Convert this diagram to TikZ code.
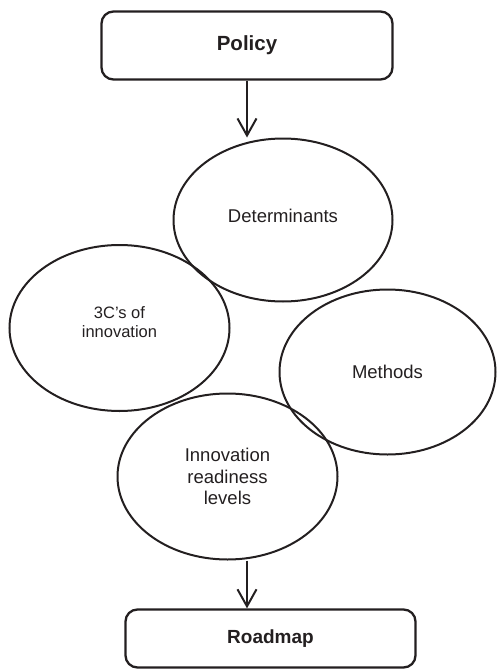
\documentclass[tikz,border=0pt]{standalone}
\usepackage{fontspec}
\setmainfont{Liberation Sans}
\usetikzlibrary{arrows.meta,shapes.geometric}
\definecolor{ink}{HTML}{231F20}
\begin{document}
\begin{tikzpicture}[x=1pt,y=-1pt,
  box/.style={draw=ink,line width=2.3pt,rounded corners=12pt,inner sep=0pt,
    text=ink,font=\fontsize{19}{22}\selectfont\bfseries},
  oval/.style={draw=ink,line width=2pt,ellipse,inner sep=0pt,text=ink,
    align=center,font=\fontsize{18.5}{21.5}\selectfont},
  arr/.style={draw=ink,line width=2pt,-{Straight Barb[length=17pt,width=19pt,line width=2pt]}}]
\useasboundingbox (0,0) rectangle (496,669);

% top and bottom boxes
\node[box,minimum width=291pt,minimum height=68pt,
  font=\fontsize{20.5}{24}\selectfont\bfseries] (policy) at (247,45.5) {Policy};
\node[box,minimum width=290pt,minimum height=58pt] (road) at (270.5,638.5) {Roadmap};

% the four overlapping ovals (text depth lifts the label a little)
\node[oval,minimum width=219pt,minimum height=163pt,text depth=8pt] (det) at (283,220) {Determinants};
\node[oval,minimum width=220pt,minimum height=166pt,text depth=12pt,
  font=\fontsize{16.5}{19}\selectfont] (three) at (119.5,328) {3C's of\\innovation};
\node[oval,minimum width=216pt,minimum height=165pt] (meth) at (387.5,372) {Methods};
\node[oval,minimum width=220pt,minimum height=166pt] (irl) at (227.5,476.5)
  {Innovation\\readiness\\levels};

% connectors
\draw[arr] (policy.south) -- (policy.south |- det.north);
\draw[arr] (irl.south -| policy.south) -- (road.north -| policy.south);
\end{tikzpicture}
\end{document}
